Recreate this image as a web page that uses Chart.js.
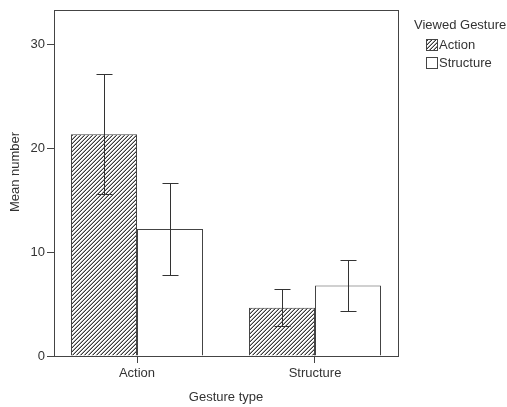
<!DOCTYPE html>
<html>
<head>
<meta charset="utf-8">
<script src="https://cdn.jsdelivr.net/npm/chart.js@4/dist/chart.umd.min.js"></script>
<style>
  html, body { margin: 0; padding: 0; background: #fff; }
  canvas { display: block; }
</style>
</head>
<body>
<canvas id="chart" width="507" height="407"></canvas>
<script>
// Gesture type categories on the x axis
const categories = ['Action', 'Structure'];
// Viewed gesture series: means and half-widths of the error bars
const seriesNames = ['Action', 'Structure'];
const actionMeans = [21.35, 4.65];
const actionErrors = [5.75, 1.8];
const structureMeans = [12.23, 6.79];
const structureErrors = [4.41, 2.46];
// Value axis
const yTicks = [0, 10, 20, 30];
const yMax = 33.3;

const FONT = 'Liberation Sans, Arial, sans-serif';
const TEXT = '#333333';
const LINE = '#444444';

// Diagonal hatch fill
function makeHatch() {
  const c = document.createElement('canvas');
  c.width = 4; c.height = 4;
  const g = c.getContext('2d');
  g.fillStyle = '#ffffff';
  g.fillRect(0, 0, 4, 4);
  for (let x = 0; x < 4; x++) {
    for (let y = 0; y < 4; y++) {
      const d = (x + y) % 4;
      if (d === 3) { g.fillStyle = '#3a3a3a'; g.fillRect(x, y, 1, 1); }
      else if (d === 2) { g.fillStyle = '#a8a8a8'; g.fillRect(x, y, 1, 1); }
    }
  }
  return document.getElementById('chart').getContext('2d').createPattern(c, 'repeat');
}
const hatch = makeHatch();

const toPoints = arr => arr.map((v, i) => ({ x: i + 1, y: v }));

// Error bars, frame, y title and legend
const decorations = {
  id: 'decorations',
  afterDatasetsDraw(chart) {
    const ctx = chart.ctx;
    const y = chart.scales.y;
    const errs = [actionErrors, structureErrors];
    ctx.save();
    ctx.strokeStyle = '#333333';
    ctx.lineWidth = 1;
    chart.data.datasets.forEach((ds, di) => {
      const meta = chart.getDatasetMeta(di);
      meta.data.forEach((bar, i) => {
        const m = ds.data[i].y, e = errs[di][i];
        const x = Math.round(bar.x) + 0.5;
        const yt = Math.round(y.getPixelForValue(m + e)) + 0.5;
        const yb = Math.round(y.getPixelForValue(m - e)) + 0.5;
        ctx.beginPath();
        ctx.moveTo(x, yt); ctx.lineTo(x, yb);
        ctx.moveTo(x - 8, yt); ctx.lineTo(x + 8, yt);
        ctx.moveTo(x - 8, yb); ctx.lineTo(x + 8, yb);
        ctx.stroke();
      });
    });
    // plot frame
    const a = chart.chartArea;
    ctx.strokeStyle = LINE;
    ctx.strokeRect(Math.round(a.left) + 0.5, Math.round(a.top) + 0.5,
                   Math.round(a.right - a.left), Math.round(a.bottom - a.top));
    ctx.restore();
  },
  afterDraw(chart) {
    const ctx = chart.ctx;
    ctx.save();
    ctx.fillStyle = TEXT;
    ctx.font = '13px ' + FONT;
    // y axis title
    ctx.save();
    ctx.translate(15, 172);
    ctx.rotate(-Math.PI / 2);
    ctx.textAlign = 'center';
    ctx.textBaseline = 'middle';
    ctx.fillText('Mean number', 0, 0);
    ctx.restore();
    // legend
    ctx.textAlign = 'left';
    ctx.textBaseline = 'middle';
    ctx.fillText('Viewed Gesture', 414, 25);
    const fills = [hatch, '#ffffff'];
    seriesNames.forEach((name, i) => {
      const by = 39 + i * 18;
      ctx.fillStyle = fills[i];
      ctx.fillRect(426, by, 11, 11);
      ctx.strokeStyle = LINE;
      ctx.lineWidth = 1;
      ctx.strokeRect(426.5, by + 0.5, 11, 11);
      ctx.fillStyle = TEXT;
      ctx.fillText(name, 439, by + 6);
    });
    ctx.restore();
  }
};

new Chart(document.getElementById('chart'), {
  type: 'bar',
  data: {
    datasets: [
      {
        label: seriesNames[0],
        data: toPoints(actionMeans),
        backgroundColor: hatch,
        borderColor: LINE,
        borderWidth: 1,
        borderSkipped: 'bottom'
      },
      {
        label: seriesNames[1],
        data: toPoints(structureMeans),
        backgroundColor: '#ffffff',
        borderColor: LINE,
        borderWidth: 1,
        borderSkipped: 'bottom'
      }
    ]
  },
  options: {
    responsive: false,
    animation: false,
    devicePixelRatio: 1,
    categoryPercentage: 0.7416,
    barPercentage: 1,
    layout: { padding: { left: 0, right: 109, top: 10, bottom: 0 } },
    plugins: { legend: { display: false }, tooltip: { enabled: false } },
    scales: {
      x: {
        type: 'linear',
        offset: false,
        min: 1 - 83 / 178,
        max: 2 + 83 / 178,
        afterBuildTicks: s => { s.ticks = categories.map((c, i) => ({ value: i + 1 })); },
        afterFit: s => { s.height = 51; },
        ticks: {
          callback: v => categories[v - 1],
          color: TEXT,
          font: { family: FONT, size: 13 },
          padding: 3,
          maxRotation: 0
        },
        grid: { display: true, offset: false, drawOnChartArea: false, drawTicks: true, tickLength: 7, color: LINE },
        border: { display: true, color: LINE },
        title: {
          display: true,
          text: 'Gesture type',
          color: TEXT,
          font: { family: FONT, size: 13 },
          padding: { top: 2, bottom: 2 }
        }
      },
      y: {
        min: 0,
        max: yMax,
        afterBuildTicks: s => { s.ticks = yTicks.map(v => ({ value: v })); },
        afterFit: s => { s.width = 54; },
        ticks: {
          color: TEXT,
          font: { family: FONT, size: 13 },
          padding: 2
        },
        grid: { display: true, drawOnChartArea: false, drawTicks: true, tickLength: 7, color: LINE },
        border: { display: true, color: LINE }
      }
    }
  },
  plugins: [decorations]
});
</script>
</body>
</html>
